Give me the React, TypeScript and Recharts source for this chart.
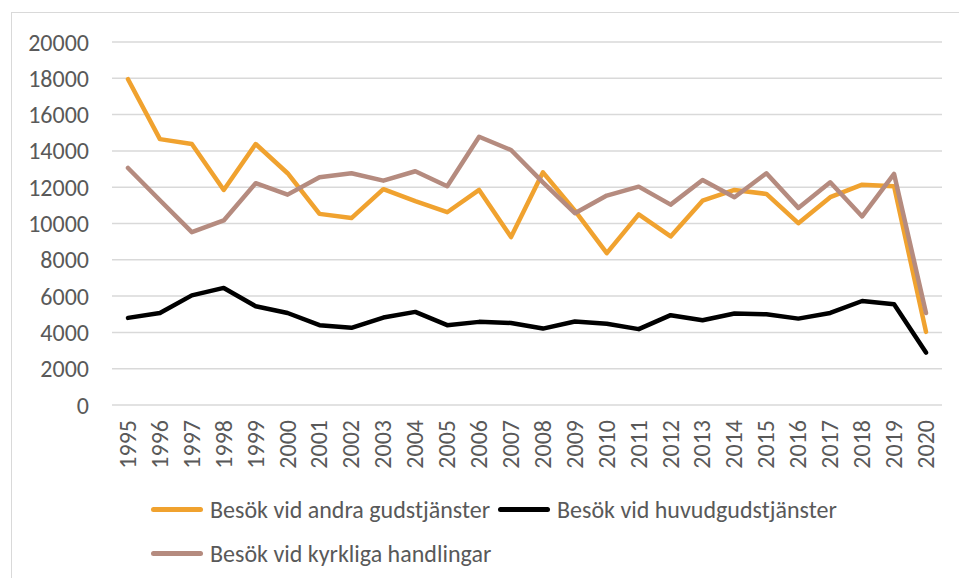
import { LineChart, Line, XAxis, YAxis, CartesianGrid, Legend } from "recharts";

const years = [
  "1995", "1996", "1997", "1998", "1999", "2000", "2001", "2002", "2003", "2004", "2005", "2006", "2007",
  "2008", "2009", "2010", "2011", "2012", "2013", "2014", "2015", "2016", "2017", "2018", "2019", "2020",
];

const andra = [
  17950, 14650, 14380, 11850, 14380, 12770, 10530, 10300, 11890, 11230, 10620, 11850, 9250,
  12820, 10710, 8370, 10500, 9290, 11260, 11850, 11630, 10020, 11450, 12140, 12050, 4030,
];

const huvud = [
  4800, 5070, 6040, 6450, 5440, 5070, 4400, 4250, 4820, 5130, 4400, 4580, 4520,
  4210, 4600, 4480, 4180, 4950, 4670, 5040, 5000, 4760, 5070, 5730, 5550, 2890,
];

const kyrkliga = [
  13060, 11280, 9520, 10170, 12220, 11590, 12550, 12770, 12360, 12880, 12050, 14780, 14050,
  12270, 10570, 11540, 12030, 11040, 12400, 11450, 12770, 10860, 12270, 10390, 12730, 5070,
];

const yTicks = [0, 2000, 4000, 6000, 8000, 10000, 12000, 14000, 16000, 18000, 20000];

const data = years.map((year, i) => ({
  year,
  andra: andra[i],
  huvud: huvud[i],
  kyrkliga: kyrkliga[i],
}));

const series = [
  { key: "andra", name: "Besök vid andra gudstjänster", color: "#F0A22F" },
  { key: "huvud", name: "Besök vid huvudgudstjänster", color: "#000000" },
  { key: "kyrkliga", name: "Besök vid kyrkliga handlingar", color: "#B58B7F" },
];

const font = "Carlito, 'Open Sans', sans-serif";
const textColor = "#595959";
const fs = 24;

function YearTick({ x, y, payload }: any) {
  return (
    <text
      x={x}
      y={y}
      transform={`rotate(-90, ${x}, ${y})`}
      textAnchor="end"
      dy="0.33em"
      fill={textColor}
      fontSize={fs}
      fontFamily={font}
    >
      {payload.value}
    </text>
  );
}

function LegendRows() {
  const item = (s: (typeof series)[number]) => (
    <div key={s.key} style={{ display: "flex", alignItems: "center", marginRight: 8 }}>
      <div style={{ width: 52, height: 5, borderRadius: 3, background: s.color, marginRight: 7 }} />
      <span style={{ fontSize: fs, color: textColor, fontFamily: font, whiteSpace: "nowrap" }}>{s.name}</span>
    </div>
  );
  return (
    <div>
      <div style={{ display: "flex", height: 44, alignItems: "center" }}>{series.slice(0, 2).map(item)}</div>
      <div style={{ display: "flex", height: 44, alignItems: "center" }}>{series.slice(2).map(item)}</div>
    </div>
  );
}

export default function App() {
  return (
    <div style={{ position: "absolute", left: 0, top: 0, width: 959, height: 578, overflow: "hidden", background: "#fff" }}>
      <div
        style={{
          position: "absolute",
          left: 11,
          top: 12,
          width: 1000,
          height: 700,
          borderLeft: "1px solid #D9D9D9",
          borderTop: "1px solid #D9D9D9",
        }}
      />
      <LineChart width={959} height={578} data={data} margin={{ top: 42, right: 17, left: 0, bottom: 3 }}>
        <CartesianGrid stroke="#D9D9D9" strokeWidth={1.5} vertical={false} />
        <XAxis
          dataKey="year"
          interval={0}
          height={82}
          axisLine={false}
          tickLine={false}
          tickSize={0}
          tickMargin={15}
          padding={{ left: 16, right: 16 }}
          tick={<YearTick />}
        />
        <YAxis
          domain={[0, 20000]}
          ticks={yTicks}
          width={112}
          axisLine={false}
          tickLine={false}
          tickSize={0}
          tickMargin={23}
          tick={{ fontSize: fs, fill: textColor, fontFamily: font }}
        />
        <Legend
          verticalAlign="bottom"
          content={() => <LegendRows />}
          wrapperStyle={{ left: 151, width: 790 }}
        />
        {series.map((s) => (
          <Line
            key={s.key}
            type="linear"
            dataKey={s.key}
            name={s.name}
            stroke={s.color}
            strokeWidth={4.5}
            strokeLinejoin="round"
            strokeLinecap="round"
            dot={false}
            activeDot={false}
            isAnimationActive={false}
          />
        ))}
      </LineChart>
    </div>
  );
}
